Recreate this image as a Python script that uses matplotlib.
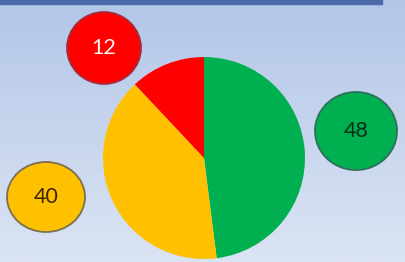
import matplotlib
matplotlib.use("Agg")
import matplotlib.pyplot as plt
import numpy as np
from matplotlib.patches import Ellipse, Rectangle
from matplotlib.colors import LinearSegmentedColormap

labels = ["Green", "Yellow", "Red"]
values = [48, 40, 12]
colors = ["#00b050", "#ffc000", "#ff0000"]
bubble_text_colors = ["#0b2e16", "#3a2400", "#fff0f0"]
bubble_edge_colors = ["#2f6e5c", "#7a7050", "#a03040"]

W, H = 406, 262
fig = plt.figure(figsize=(W / 100, H / 100), dpi=100)
ax = fig.add_axes([0, 0, 1, 1])
ax.set_xlim(0, W)
ax.set_ylim(0, H)
ax.axis("off")

# background gradient
cmap = LinearSegmentedColormap.from_list("bg", ["#dbe4f3", "#b3c6e8"])
grad = np.linspace(0, 1, 256).reshape(-1, 1)
ax.imshow(grad, extent=[0, W, 0, H], origin="lower", cmap=cmap, aspect="auto", zorder=0)

# top border line
ax.add_patch(Rectangle((0, H - 3.5), 382, 3.5, color="#4a6aa8", zorder=1))

# pie
ax.pie(values, colors=colors, startangle=90, counterclock=False,
       center=(204, H - 158), radius=101, frame=True,
       wedgeprops=dict(linewidth=0))
ax.set_xlim(0, W)
ax.set_ylim(0, H)
ax.axis("off")

# bubbles (pixel centers, radii)
bubbles = [
    (356, 131, 41, 39),
    (46, 197, 39, 35),
    (104, 48, 37, 36),
]
for (cx, cy, rx, ry), v, c, tc, ec in zip(bubbles, values, colors, bubble_text_colors, bubble_edge_colors):
    ax.add_patch(Ellipse((cx, H - cy), 2 * rx, 2 * ry, facecolor=c, edgecolor=ec, linewidth=1.3, zorder=3))
    ax.text(cx, H - cy, str(v), ha="center", va="center", fontsize=15.5,
            color=tc, family="Lato", zorder=4)

fig.savefig("out.png", dpi=100)
